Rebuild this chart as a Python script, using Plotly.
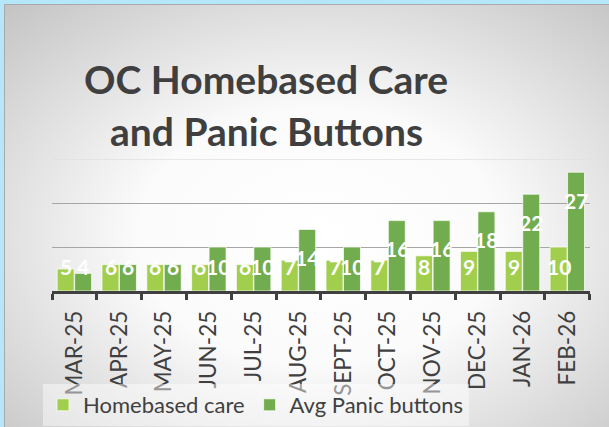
import base64
import plotly.graph_objects as go

months = ["MAR-25", "APR-25", "MAY-25", "JUN-25", "JUL-25", "AUG-25",
          "SEPT-25", "OCT-25", "NOV-25", "DEC-25", "JAN-26", "FEB-26"]
homebased = [5, 6, 6, 6, 6, 7, 7, 7, 8, 9, 9, 10]
panic = [4, 6, 6, 10, 10, 14, 10, 16, 16, 18, 22, 27]

W, H = 609, 427
ML, MR, MT, MB = 52, 19, 159, 136
PW, PH = W - ML - MR, H - MT - MB
YMAX = 30

def px_x(x):
    return (x - ML) / PW

def px_y(y):
    return (H - MB - y) / PH

FONT = "Lato, 'Open Sans', sans-serif"
TXT = "#404040"
LIGHT = "#A2CE4E"
DARK = "#71AD4E"

fig = go.Figure()
fig.add_trace(go.Bar(x=months, y=homebased, name="Homebased care",
                     marker=dict(color=LIGHT, line=dict(color="rgba(255,255,255,0.7)", width=1))))
fig.add_trace(go.Bar(x=months, y=panic, name="Avg Panic buttons",
                     marker=dict(color=DARK, line=dict(color="rgba(255,255,255,0.7)", width=1))))

# data labels
ppu = PH / YMAX
annotations = []
for series, shift in ((homebased, -8.7), (panic, 8.7)):
    for m, v in zip(months, series):
        if v * ppu - 28 >= 25:
            yv, ys = v, -28
        else:
            yv, ys = 0, 25
        annotations.append(dict(x=m, y=yv, xref="x", yref="y", xshift=shift, yshift=ys,
                                text=f"<b>{v}</b>", showarrow=False,
                                font=dict(family=FONT, size=21, color="white"),
                                xanchor="center", yanchor="middle"))

# title
for text, ypx in (("OC Homebased Care", 79), ("and Panic Buttons", 131)):
    annotations.append(dict(x=px_x(266), y=px_y(ypx), xref="paper", yref="paper",
                            text=f"<b>{text}</b>", showarrow=False,
                            font=dict(family=FONT, size=39, color="#3f3f3f"),
                            xanchor="center", yanchor="middle"))

svg = """<svg xmlns='http://www.w3.org/2000/svg' width='605' height='423' viewBox='0 0 605 423'>
<defs><radialGradient id='g' cx='0.52' cy='0.55' r='0.75'>
<stop offset='0' stop-color='#ffffff'/>
<stop offset='0.4' stop-color='#fbfbfb'/>
<stop offset='1' stop-color='#c4c4c4'/>
</radialGradient></defs>
<rect x='0' y='0' width='605' height='423' fill='url(#g)'/>
<path d='M0.5,423 L0.5,0.5 L605,0.5' fill='none' stroke='#aaaaaa' stroke-width='1'/>
</svg>"""
src = "data:image/svg+xml;base64," + base64.b64encode(svg.encode()).decode()

fig.update_layout(
    width=W, height=H,
    margin=dict(l=ML, r=MR, t=MT, b=MB, pad=0, autoexpand=False),
    paper_bgcolor="#B5E6FA",
    plot_bgcolor="rgba(0,0,0,0)",
    barmode="group", bargap=0.22, bargroupgap=0.03,
    showlegend=True,
    legend=dict(orientation="h", x=px_x(43), y=px_y(384), xanchor="left", yanchor="top",
                bgcolor="rgba(255,255,255,0.45)",
                font=dict(family=FONT, size=22, color=TXT),
                itemwidth=30, traceorder="normal"),
    annotations=annotations,
    shapes=[dict(type="line", xref="paper", yref="y", x0=0, x1=1, y0=YMAX, y1=YMAX,
                 line=dict(color="#e0e0e0", width=1.5), layer="below")],
    images=[dict(source=src, xref="paper", yref="paper",
                 x=px_x(4), y=px_y(4), sizex=605 / PW, sizey=423 / PH,
                 xanchor="left", yanchor="top", sizing="stretch", layer="below")],
    xaxis=dict(type="category", showline=True, linecolor=TXT, linewidth=2.5,
               ticks="outside", ticklen=6, tickwidth=2.5, tickcolor=TXT,
               tickson="boundaries", tickangle=-90, ticklabelstandoff=8,
               tickfont=dict(family=FONT, size=22.5, color=TXT), showgrid=False),
    yaxis=dict(range=[0, YMAX], dtick=10, showticklabels=False, showgrid=True,
               gridcolor="#a6a6a6", gridwidth=1, zeroline=False, ticks=""),
)

fig.write_html("out.html", config={"displayModeBar": False},
               post_script="document.body.style.margin='0';document.body.style.overflow='hidden';")
